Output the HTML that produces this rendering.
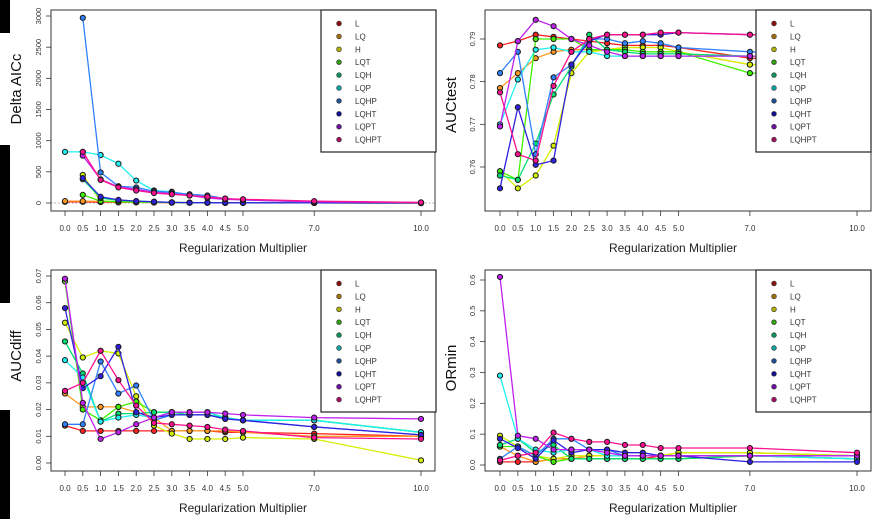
<!DOCTYPE html>
<html><head><meta charset="utf-8">
<style>
html,body{margin:0;padding:0;background:#fff;}
svg{display:block;font-family:"Liberation Sans",sans-serif;}
</style></head>
<body>
<svg id="fig" width="880" height="519" viewBox="0 0 880 519" xmlns="http://www.w3.org/2000/svg">
<rect x="0" y="0" width="880" height="519" fill="#fff"/>
<rect x="0" y="0" width="10" height="519" fill="#000"/>
<rect x="0" y="33" width="10" height="112" fill="#fff"/>
<rect x="0" y="303" width="10" height="107" fill="#fff"/>
</svg>
<script>
const xVals=[0,0.5,1,1.5,2,2.5,3,3.5,4,4.5,5,7,10];
const xTickLabels=["0.0","0.5","1.0","1.5","2.0","2.5","3.0","3.5","4.0","4.5","5.0","7.0","10.0"];
const seriesNames=["L","LQ","H","LQT","LQH","LQP","LQHP","LQHT","LQPT","LQHPT"];
const lineColors=["#ff2020","#ff9a20","#d4f000","#40f000","#00e070","#20f0f0","#3080ff","#3020e0","#c020f0","#ff1090"];
const dotColors=["#8a1010","#a07010","#b0b000","#30a010","#10905a","#10a0a0","#205090","#101090","#7010a0","#a01060"];

const aiccTicks=[0,500,1000,1500,2000,2500,3000];
const aiccValues=[
[20,20,15,10,10,8,5,5,5,3,3,2,0],
[30,30,25,20,15,10,8,5,5,3,3,2,0],
[null,450,30,20,15,10,8,5,5,3,3,2,0],
[null,130,30,20,15,10,8,5,5,3,3,2,0],
[null,380,80,40,30,20,10,5,5,3,3,2,0],
[820,820,770,630,360,200,180,130,110,70,50,20,5],
[null,2970,490,270,250,190,170,140,120,70,50,20,5],
[null,400,100,50,30,20,10,5,5,3,3,2,0],
[null,760,380,260,220,170,150,120,80,60,50,20,5],
[null,820,370,250,200,160,140,120,100,70,60,30,10]];

const auctestTicks=[0.76,0.77,0.78,0.79];
const auctestValues=[
[0.7885,0.7895,0.791,0.7905,0.790,0.7895,0.789,0.7885,0.7885,0.7885,0.788,0.7855,0.785],
[0.7785,0.782,0.7855,0.787,0.7875,0.7875,0.7875,0.788,0.788,0.788,0.787,0.784,0.785],
[0.759,0.755,0.758,0.765,0.782,0.787,0.7875,0.788,0.788,0.788,0.787,0.784,0.784],
[0.759,0.757,0.790,0.790,0.790,0.7875,0.7875,0.7875,0.787,0.787,0.787,0.782,0.782],
[0.758,0.757,0.7655,0.777,0.7835,0.791,0.7875,0.787,0.7865,0.7865,0.7865,0.786,0.786],
[0.770,0.7805,0.7875,0.788,0.787,0.787,0.786,0.786,0.786,0.786,0.786,0.786,0.786],
[0.782,0.787,0.763,0.781,0.784,0.790,0.790,0.789,0.7895,0.789,0.788,0.787,0.786],
[0.755,0.774,0.7605,0.7615,0.784,0.7895,0.791,0.791,0.791,0.791,0.7915,0.791,0.791],
[0.7695,0.7895,0.7945,0.793,0.790,0.7885,0.787,0.786,0.786,0.786,0.786,0.786,0.786],
[0.7775,0.763,0.7615,0.779,0.787,0.790,0.791,0.791,0.791,0.7915,0.7915,0.791,0.791]];

const aucdiffTicks=[0,0.01,0.02,0.03,0.04,0.05,0.06,0.07];
const aucdiffTickLabels=["0.00","0.01","0.02","0.03","0.04","0.05","0.06","0.07"];
const aucdiffValues=[
[0.014,0.012,0.012,0.012,0.012,0.012,0.012,0.012,0.012,0.0115,0.0115,0.011,0.010],
[0.026,0.021,0.021,0.021,0.019,0.017,0.012,0.012,0.012,0.012,0.0115,0.010,0.010],
[0.0525,0.0395,0.042,0.041,0.025,0.014,0.011,0.009,0.009,0.009,0.0095,0.009,0.001],
[0.068,0.020,0.016,0.021,0.023,0.019,0.019,0.019,0.019,0.017,0.016,0.016,0.0115],
[0.0455,0.0335,0.0155,0.0185,0.0185,0.019,0.019,0.018,0.018,0.017,0.016,0.016,0.0115],
[0.0385,0.032,0.0155,0.017,0.018,0.017,0.019,0.019,0.019,0.017,0.016,0.016,0.0115],
[0.0145,0.0145,0.038,0.026,0.029,0.016,0.018,0.018,0.018,0.0165,0.016,0.0135,0.0105],
[0.058,0.028,0.0325,0.0435,0.019,0.017,0.018,0.018,0.018,0.0165,0.016,0.0135,0.0105],
[0.069,0.0225,0.009,0.0115,0.0145,0.017,0.019,0.019,0.019,0.0185,0.018,0.017,0.0165],
[0.027,0.030,0.042,0.031,0.0215,0.015,0.0145,0.014,0.0135,0.0125,0.012,0.0095,0.009]];

const orminTicks=[0,0.1,0.2,0.3,0.4,0.5,0.6];
const orminTickLabels=["0.0","0.1","0.2","0.3","0.4","0.5","0.6"];
const orminValues=[
[0.01,0.01,0.01,0.02,0.02,0.02,0.02,0.02,0.02,0.03,0.03,0.03,0.03],
[0.06,0.03,0.01,0.02,0.02,0.03,0.03,0.03,0.03,0.03,0.04,0.04,0.03],
[0.095,0.06,0.03,0.02,0.03,0.03,0.03,0.03,0.03,0.03,0.04,0.04,0.03],
[0.06,0.06,0.03,0.01,0.02,0.02,0.02,0.02,0.02,0.02,0.02,0.03,0.02],
[0.065,0.085,0.04,0.065,0.02,0.02,0.02,0.02,0.02,0.02,0.02,0.03,0.02],
[0.29,0.085,0.05,0.04,0.05,0.05,0.03,0.03,0.03,0.03,0.03,0.03,0.02],
[0.02,0.06,0.03,0.085,0.085,0.05,0.05,0.03,0.03,0.03,0.03,0.03,0.03],
[0.085,0.055,0.02,0.08,0.04,0.05,0.05,0.04,0.04,0.03,0.03,0.01,0.01],
[0.61,0.095,0.085,0.05,0.05,0.05,0.04,0.03,0.03,0.03,0.03,0.03,0.03],
[0.015,0.03,0.04,0.105,0.085,0.075,0.075,0.065,0.065,0.055,0.055,0.055,0.04]];

const NS="http://www.w3.org/2000/svg";
const svg=document.getElementById('fig');
function mk(tag,attrs,parent){const e=document.createElementNS(NS,tag);for(const k in attrs)e.setAttribute(k,attrs[k]);(parent||svg).appendChild(e);return e;}

const panels=[
{key:"delta-aicc",title:"Delta AICc",box:[51,10,435,211],x0:65,x10:421,ymin:0,ymax:3000,yA:203,yB:16,ticks:aiccTicks,tickLabels:aiccTicks.map(String),values:aiccValues,leg:[321,10,436,152],titleX:21,titleY:89,zeroLine:true},
{key:"auctest",title:"AUCtest",box:[485,10,871,211],x0:500,x10:857,ymin:0.76,ymax:0.79,yA:167,yB:39,ticks:auctestTicks,tickLabels:["0.76","0.77","0.78","0.79"],values:auctestValues,leg:[756,10,871,152],titleX:456,titleY:105},
{key:"aucdiff",title:"AUCdiff",box:[51,270,435,471],x0:65,x10:421,ymin:0,ymax:0.07,yA:463,yB:276,ticks:aucdiffTicks,tickLabels:aucdiffTickLabels,values:aucdiffValues,leg:[321,270,436,412],titleX:21,titleY:356},
{key:"ormin",title:"ORmin",box:[485,270,871,471],x0:500,x10:857,ymin:0,ymax:0.6,yA:465,yB:280,ticks:orminTicks,tickLabels:orminTickLabels,values:orminValues,leg:[756,270,871,412],titleX:456,titleY:368}
];

panels.forEach(p=>{
  const g=mk('g',{});
  
  
  const [bx0,by0,bx1,by1]=p.box;
  const xs=v=>p.x0+(p.x10-p.x0)*v/10;
  const ys=v=>p.yA+(p.yB-p.yA)*(v-p.ymin)/(p.ymax-p.ymin);
  // y title
  const yt=mk('text',{x:p.titleX,y:p.titleY,'font-size':15,fill:'#111','text-anchor':'middle',transform:`rotate(-90 ${p.titleX} ${p.titleY})`},g);
  yt.textContent=p.title;
  
  
  // y ticks
  p.ticks.forEach((t,i)=>{
    const y=ys(t);
    mk('line',{x1:bx0-5,x2:bx0,y1:y,y2:y,stroke:'#333','stroke-width':0.8},g);
    const lx=bx0-10;
    const tl=mk('text',{x:lx,y:y,'font-size':7.5,fill:'#333','text-anchor':'middle',transform:`rotate(-90 ${lx} ${y})`},g);
    tl.textContent=p.tickLabels[i];
    
    
  });
  // x ticks
  xVals.forEach((v,i)=>{
    const x=xs(v);
    mk('line',{x1:x,x2:x,y1:by1,y2:by1+5,stroke:'#333','stroke-width':0.8},g);
    const tl=mk('text',{x:x,y:by1+20,'font-size':8,fill:'#333','text-anchor':'middle'},g);
    tl.textContent=xTickLabels[i];
    
    
  });
  const xt=mk('text',{x:(bx0+bx1)/2+(p.x0>300?-5:0),y:by1+41,'font-size':12,fill:'#222','text-anchor':'middle'},g);
  xt.textContent="Regularization Multiplier";
  
  
  if(p.zeroLine){mk('line',{x1:bx0,x2:bx1,y1:ys(0),y2:ys(0),stroke:'#888','stroke-width':0.8,'stroke-dasharray':'1.5,2'},g);}
  // series
  p.values.forEach((vals,si)=>{
    const sg=mk('g',{},g);
    
    
    let d='';
    vals.forEach((v,i)=>{if(v==null)return;d+=(d?'L':'M')+xs(xVals[i]).toFixed(1)+','+ys(v).toFixed(1);});
    const ln=mk('path',{d:d,fill:'none',stroke:lineColors[si],'stroke-width':1.3},sg);
    
    
    vals.forEach((v,i)=>{
      if(v==null)return;
      const c=mk('circle',{cx:xs(xVals[i]),cy:ys(v),r:2.6,fill:lineColors[si],stroke:'#1a1a1a','stroke-width':1},sg);
      
      
    });
  });
  // box
  mk('rect',{x:bx0,y:by0,width:bx1-bx0,height:by1-by0,fill:'none',stroke:'#333','stroke-width':1},g);
  // legend
  const [lx0,ly0,lx1,ly1]=p.leg;
  const lg=mk('g',{},g);
  
  
  mk('rect',{x:lx0,y:ly0,width:lx1-lx0,height:ly1-ly0,fill:'#fff',stroke:'#222','stroke-width':1.2},lg);
  seriesNames.forEach((n,i)=>{
    const y=ly0+13.5+i*12.9;
    const e=mk('g',{},lg);
    
    
    mk('circle',{cx:lx0+18,cy:y,r:2.4,fill:dotColors[i],stroke:'#333','stroke-width':0.6},e);
    const t=mk('text',{x:lx0+34,y:y+3,'font-size':8,fill:'#333'},e);
    t.textContent=n;
  });
});
</script>
</body></html>
